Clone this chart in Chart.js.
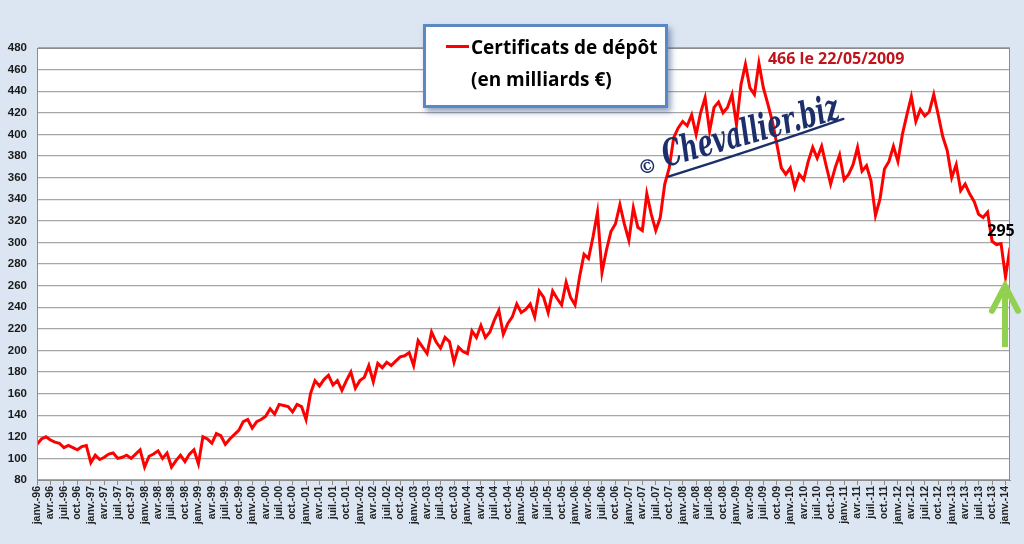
<!DOCTYPE html>
<html>
<head>
<meta charset="utf-8">
<script src="https://cdn.jsdelivr.net/npm/chart.js@4.4.1/dist/chart.umd.min.js"></script>
<style>
  html, body { margin: 0; padding: 0; background: #dce6f2; }
  #wrap { position: relative; width: 1024px; height: 544px; }
  #legendBox {
    position: absolute; left: 423px; top: 24px; width: 239px; height: 78px;
    background: #fff; border: 3px solid #5b87c2;
    box-shadow: 3px 4px 6px rgba(60, 90, 140, 0.55);
    font-family: "Open Sans", "Liberation Sans", sans-serif; font-weight: bold;
    font-size: 19px; color: #000; line-height: 29px;
  }
  #legendBox .row1 { position: absolute; left: 20px; top: 6px; white-space: nowrap; }
  #legendBox .row2 { position: absolute; left: 45px; top: 38px; white-space: nowrap; }
  #legendBox .swatch { display: inline-block; width: 23px; height: 3px; background: #ff0000; vertical-align: middle; margin-right: 2px; position: relative; top: -2px; }
</style>
</head>
<body>
<div id="wrap">
  <canvas id="chart"></canvas>
  <div id="legendBox">
    <div class="row1"><span class="swatch"></span>Certificats de dépôt</div>
    <div class="row2">(en milliards €)</div>
  </div>
</div>
<script>
// quarterly tick labels, janv.-96 .. janv.-14
const quarterLabels = [
  'janv.-96','avr.-96','juil.-96','oct.-96','janv.-97','avr.-97','juil.-97','oct.-97',
  'janv.-98','avr.-98','juil.-98','oct.-98','janv.-99','avr.-99','juil.-99','oct.-99',
  'janv.-00','avr.-00','juil.-00','oct.-00','janv.-01','avr.-01','juil.-01','oct.-01',
  'janv.-02','avr.-02','juil.-02','oct.-02','janv.-03','avr.-03','juil.-03','oct.-03',
  'janv.-04','avr.-04','juil.-04','oct.-04','janv.-05','avr.-05','juil.-05','oct.-05',
  'janv.-06','avr.-06','juil.-06','oct.-06','janv.-07','avr.-07','juil.-07','oct.-07',
  'janv.-08','avr.-08','juil.-08','oct.-08','janv.-09','avr.-09','juil.-09','oct.-09',
  'janv.-10','avr.-10','juil.-10','oct.-10','janv.-11','avr.-11','juil.-11','oct.-11',
  'janv.-12','avr.-12','juil.-12','oct.-12','janv.-13','avr.-13','juil.-13','oct.-13',
  'janv.-14'
];

// encours des certificats de dépôt, milliards €, un point par mois depuis janv. 1996
const deposits = [
  113,118,120,117,115,114,110,112,110,108,111,112,
  96,103,99,101,104,105,100,101,103,100,104,108,
  92,102,104,107,100,105,92,98,103,97,104,108,
  95,120,118,114,123,121,113,118,122,126,134,136,
  128,134,136,139,146,141,150,149,148,143,150,148,
  136,160,172,167,173,177,168,172,163,172,180,165,
  172,175,186,171,188,184,189,186,190,194,195,198,
  186,209,203,197,217,208,202,212,208,189,203,199,
  197,218,212,223,212,217,228,237,215,225,231,243,
  235,238,243,231,255,249,235,255,248,242,263,249,
  242,268,289,285,305,328,272,293,310,317,335,317,
  302,332,314,311,345,326,311,323,354,369,397,406,
  412,408,418,400,420,434,403,425,430,420,425,437,
  409,446,465,443,437,466,443,428,412,391,369,363,
  369,351,363,358,375,388,378,389,371,354,369,381,
  358,363,372,388,366,371,357,325,340,368,375,389,
  375,400,418,435,412,423,417,421,437,418,398,385,
  360,372,348,354,345,338,326,323,328,301,298,299,
  268,295
];

const yMin = 80, yMax = 480, yStep = 20;
const seriesName = 'Certificats de dépôt (en milliards €)';
const peakText = '466 le 22/05/2009';

const overlay = {
  id: 'overlay',
  beforeDraw(chart) {
    const a = chart.chartArea, c = chart.ctx;
    c.save();
    c.fillStyle = '#ffffff';
    c.fillRect(a.left, a.top, a.right - a.left, a.bottom - a.top);
    c.restore();
  },
  afterDraw(chart) {
    const c = chart.ctx, xs = chart.scales.x, ys = chart.scales.y, a = chart.chartArea;
    c.save();
    // plot border
    c.strokeStyle = '#8c8c8c'; c.lineWidth = 1;
    c.strokeRect(a.left + 0.5, a.top + 0.5, a.right - a.left - 1, a.bottom - a.top);

    // peak note
    const pk = deposits.indexOf(Math.max(...deposits));
    c.fillStyle = '#c0141c';
    c.font = 'bold 16px "Open Sans", "Liberation Sans", sans-serif';
    c.textAlign = 'left'; c.textBaseline = 'middle';
    c.fillText(peakText, xs.getPixelForValue(pk) + 9, ys.getPixelForValue(deposits[pk]) - 4, 152);

    // last value note
    const li = deposits.length - 1;
    const lx = xs.getPixelForValue(li), ly = ys.getPixelForValue(deposits[li]);
    c.fillStyle = '#000';
    c.font = 'bold 16px "Open Sans", "Liberation Sans", sans-serif';
    c.textAlign = 'center';
    c.fillText(String(deposits[li]), lx - 9, ly - 16);

    // green arrow under the low point
    const lo = deposits[li - 1];
    const tipY = ys.getPixelForValue(lo) + 6, ax = lx - 5;
    c.fillStyle = '#92d050';
    c.fillRect(ax - 3, tipY + 10, 6, ys.getPixelForValue(lo - 65) - tipY - 10);
    c.strokeStyle = '#92d050'; c.lineWidth = 6; c.lineCap = 'round';
    c.beginPath();
    c.moveTo(ax - 13, tipY + 28); c.lineTo(ax, tipY + 3); c.lineTo(ax + 13, tipY + 28);
    c.stroke();

    // watermark
    c.translate(666, 168);
    c.rotate(-0.27);
    c.fillStyle = '#1c2f6b';
    c.textAlign = 'left'; c.textBaseline = 'alphabetic';
    c.font = 'bold 19px "DejaVu Serif", serif';
    c.fillText('©', -27, 0);
    c.font = 'italic bold 37px "DejaVu Serif", serif';
    c.fillText('Chevallier.biz', 0, -1, 182);
    c.strokeStyle = '#1c2f6b'; c.lineWidth = 2.5; c.lineCap = 'round';
    c.beginPath(); c.moveTo(0, 9); c.quadraticCurveTo(90, 6, 184, 0); c.stroke();
    c.restore();
  }
};

new Chart(document.getElementById('chart').getContext('2d'), {
  type: 'line',
  data: {
    datasets: [{
      label: seriesName,
      data: deposits.map((v, i) => ({ x: i, y: v })),
      borderColor: '#ff0000',
      borderWidth: 3,
      pointRadius: 0,
      tension: 0,
      fill: false
    }]
  },
  options: {
    responsive: true,
    maintainAspectRatio: false,
    animation: false,
    layout: { padding: { top: 48, right: 14, left: 0, bottom: 0 } },
    plugins: { legend: { display: false }, tooltip: { enabled: false } },
    scales: {
      x: {
        type: 'linear',
        min: 0,
        max: deposits.length - 1,
        afterFit: (s) => { s.height = 64; },
        grid: { drawOnChartArea: false, drawTicks: true, tickLength: 5, color: '#8c8c8c' },
        border: { color: '#8c8c8c' },
        ticks: {
          stepSize: 3,
          includeBounds: false,
          autoSkip: false,
          maxRotation: 90,
          minRotation: 90,
          padding: 1,
          color: '#222',
          font: { family: '"Liberation Sans", Arial, sans-serif', size: 10.5, weight: 'bold' },
          callback: (v) => quarterLabels[v / 3] || ''
        }
      },
      y: {
        min: yMin,
        max: yMax,
        afterFit: (s) => { s.width = 37; },
        grid: { color: '#a6a6a6', lineWidth: 1.2, drawTicks: false },
        border: { color: '#8c8c8c' },
        ticks: {
          stepSize: yStep,
          padding: 10,
          color: '#1a1a1a',
          font: { family: '"Liberation Sans", Arial, sans-serif', size: 11.5, weight: 'bold' }
        }
      }
    }
  },
  plugins: [overlay]
});
</script>
</body>
</html>
